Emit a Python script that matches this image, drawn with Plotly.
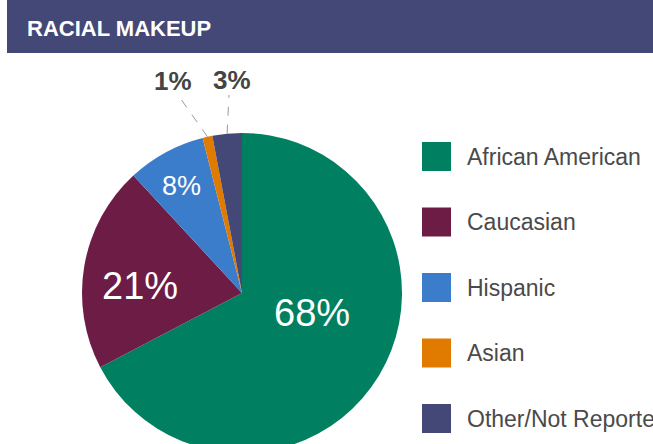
import math
import plotly.graph_objects as go

categories = ["African American", "Caucasian", "Hispanic", "Asian", "Other/Not Reported"]
values = [68, 21, 8, 1, 3]
labels_text = ["68%", "21%", "8%", "1%", "3%"]
colors = ["#008060", "#6c1c45", "#3b7dca", "#e07b00", "#434876"]
title_text = "RACIAL MAKEUP"

W, H = 653, 460
CX, CY, R = 242, 293, 160
FONT = "Liberation Sans, Arial, sans-serif"

def px(x):
    return x / W

def py(y):
    return 1 - y / H

# label styling: (angle offset from slice middle in degrees, radius fraction, font size, inside?)
label_style = [(-15, 0.455, 38, True), (-6, 0.64, 38, True), (-1, 0.77, 27, True),
               (None, None, 26, False), (None, None, 26, False)]
label_ends = {3: (178, 95), 4: (229, 95)}
label_pos = {3: (173, 81), 4: (232, 80)}

fig = go.Figure()
fig.add_trace(go.Pie(
    labels=categories,
    values=values,
    text=labels_text,
    textinfo="none",
    marker=dict(colors=colors, line=dict(width=0)),
    sort=False,
    direction="clockwise",
    rotation=0,
    hoverinfo="label+text",
    domain=dict(x=[px(CX - R), px(CX + R)], y=[py(CY + R), py(CY - R)]),
    showlegend=False,
))

shapes = []
annotations = []

# header bar
shapes.append(dict(type="rect", xref="paper", yref="paper",
                   x0=px(7), x1=1, y0=py(53), y1=1,
                   fillcolor="#434876", line=dict(width=0), layer="below"))
annotations.append(dict(text="<b>" + title_text + "</b>", xref="paper", yref="paper",
                        x=px(25), y=py(29), xanchor="left", yanchor="middle",
                        showarrow=False,
                        font=dict(family=FONT, size=22, color="white")))

total = sum(values)
cum = 0
for i, v in enumerate(values):
    mid = (cum + v / 2) / total * 360
    cum += v
    dth, rf, fs, inside = label_style[i]
    if inside:
        a = math.radians(mid + dth)
        lx = CX + rf * R * math.sin(a)
        ly = CY - rf * R * math.cos(a)
        annotations.append(dict(text=labels_text[i], xref="paper", yref="paper",
                                x=px(lx), y=py(ly), xanchor="center", yanchor="middle",
                                showarrow=False,
                                font=dict(family=FONT, size=fs, color="white")))
    else:
        a = math.radians(mid)
        sx = CX + R * math.sin(a)
        sy = CY - R * math.cos(a)
        ex, ey = label_ends[i]
        shapes.append(dict(type="line", xref="paper", yref="paper",
                           x0=px(sx), y0=py(sy), x1=px(ex), y1=py(ey),
                           line=dict(color="#9a9a9a", width=1, dash="dash")))
        lx, ly = label_pos[i]
        annotations.append(dict(text="<b>" + labels_text[i] + "</b>", xref="paper", yref="paper",
                                x=px(lx), y=py(ly), xanchor="center", yanchor="middle",
                                showarrow=False,
                                font=dict(family=FONT, size=fs, color="#444444")))

# custom legend
for i, (cat, col) in enumerate(zip(categories, colors)):
    yc = 156.5 + i * 65.5
    shapes.append(dict(type="rect", xref="paper", yref="paper",
                       x0=px(422), x1=px(451), y0=py(yc + 14.5), y1=py(yc - 14.5),
                       fillcolor=col, line=dict(width=0)))
    annotations.append(dict(text=cat, xref="paper", yref="paper",
                            x=px(465), y=py(yc), xanchor="left", yanchor="middle",
                            showarrow=False,
                            font=dict(family=FONT, size=23, color="#4a4a4a")))

fig.update_layout(
    width=W, height=H,
    margin=dict(l=0, r=0, t=0, b=0),
    paper_bgcolor="white",
    plot_bgcolor="white",
    shapes=shapes,
    annotations=annotations,
)

fig.write_html("out.html",
               post_script="document.documentElement.style.overflow='hidden';"
                           "document.body.style.overflow='hidden';"
                           "document.body.style.margin='0';")
